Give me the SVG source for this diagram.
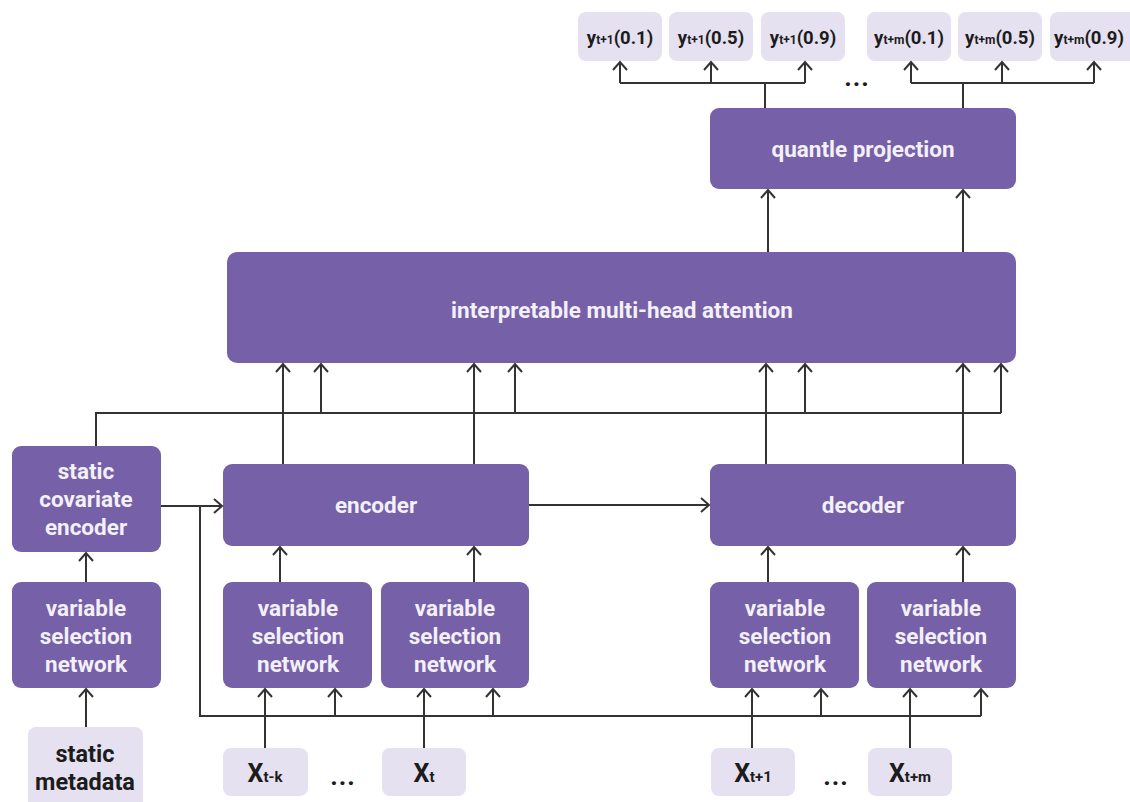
<svg xmlns="http://www.w3.org/2000/svg" width="1130" height="802" viewBox="0 0 1130 802">
<defs>
<style>
.p{fill:#7660a8}
.l{fill:#e6e1f0}
.pt{fill:#f3f0f8;font-family:Roboto,"Liberation Sans",sans-serif;font-weight:bold;font-size:22.5px;text-anchor:middle}
.lt{fill:#1c1c1c;font-family:Roboto,"Liberation Sans",sans-serif;font-weight:bold;text-anchor:middle}
.c{fill:none;stroke:#333;stroke-width:2}
</style>
<marker id="a" viewBox="-10 -8 12 16" refX="0" refY="0" markerWidth="12" markerHeight="16" markerUnits="userSpaceOnUse" orient="auto">
<path d="M-8,-7 L0,0 L-8,7" fill="none" stroke="#333" stroke-width="2"/>
</marker>
</defs>
<rect width="1130" height="802" fill="#fff"/>

<g id="out1"><rect class="l" x="578" y="12" width="84" height="49" rx="8"/><text class="lt" x="620" y="44" font-size="18.5">y<tspan font-size="12">t+1</tspan>(0.1)</text></g>
<g id="out2"><rect class="l" x="669" y="12" width="84" height="49" rx="8"/><text class="lt" x="711" y="44" font-size="18.5">y<tspan font-size="12">t+1</tspan>(0.5)</text></g>
<g id="out3"><rect class="l" x="761" y="12" width="84" height="49" rx="8"/><text class="lt" x="803" y="44" font-size="18.5">y<tspan font-size="12">t+1</tspan>(0.9)</text></g>
<g id="out4"><rect class="l" x="867" y="12" width="84" height="49" rx="8"/><text class="lt" x="909" y="44" font-size="18.5">y<tspan font-size="12">t+m</tspan>(0.1)</text></g>
<g id="out5"><rect class="l" x="958" y="12" width="84" height="49" rx="8"/><text class="lt" x="1000" y="44" font-size="18.5">y<tspan font-size="12">t+m</tspan>(0.5)</text></g>
<g id="out6"><rect class="l" x="1050" y="12" width="90" height="49" rx="8"/><text class="lt" x="1089" y="44" font-size="18.5">y<tspan font-size="12">t+m</tspan>(0.9)</text></g>
<text class="lt" x="857" y="86" font-size="26" letter-spacing="1">...</text>

<g id="quantile"><rect class="p" x="710" y="108" width="306" height="81" rx="9"/><text class="pt" x="863" y="157">quantle projection</text></g>
<g id="attention"><rect class="p" x="227" y="252" width="789" height="111" rx="10"/><text class="pt" x="622" y="318">interpretable multi-head attention</text></g>
<g id="sce"><rect class="p" x="12" y="446" width="149" height="106" rx="9"/><text class="pt" x="86" y="479">static</text><text class="pt" x="86" y="507">covariate</text><text class="pt" x="86" y="535">encoder</text></g>
<g id="encoder"><rect class="p" x="223" y="464" width="306" height="82" rx="9"/><text class="pt" x="376" y="513">encoder</text></g>
<g id="decoder"><rect class="p" x="710" y="464" width="306" height="82" rx="9"/><text class="pt" x="863" y="513">decoder</text></g>

<g id="vsn0"><rect class="p" x="12" y="582" width="149" height="106" rx="9"/><text class="pt" x="86" y="616">variable</text><text class="pt" x="86" y="644">selection</text><text class="pt" x="86" y="672">network</text></g>
<g id="vsn1"><rect class="p" x="223" y="582" width="149" height="106" rx="9"/><text class="pt" x="298" y="616">variable</text><text class="pt" x="298" y="644">selection</text><text class="pt" x="298" y="672">network</text></g>
<g id="vsn2"><rect class="p" x="381" y="582" width="148" height="106" rx="9"/><text class="pt" x="455" y="616">variable</text><text class="pt" x="455" y="644">selection</text><text class="pt" x="455" y="672">network</text></g>
<g id="vsn3"><rect class="p" x="710" y="582" width="149" height="106" rx="9"/><text class="pt" x="785" y="616">variable</text><text class="pt" x="785" y="644">selection</text><text class="pt" x="785" y="672">network</text></g>
<g id="vsn4"><rect class="p" x="867" y="582" width="149" height="106" rx="9"/><text class="pt" x="941" y="616">variable</text><text class="pt" x="941" y="644">selection</text><text class="pt" x="941" y="672">network</text></g>

<g id="meta"><rect class="l" x="28" y="727" width="115" height="85" rx="8"/><text class="lt" x="85" y="762" font-size="23.5">static</text><text class="lt" x="85" y="790" font-size="23.5">metadata</text></g>
<g id="x1"><rect class="l" x="223" y="748" width="85" height="48" rx="8"/><text class="lt" x="265" y="782" font-size="25">X<tspan font-size="15">t-k</tspan></text></g>
<text class="lt" x="343" y="785" font-size="26" letter-spacing="1">...</text>
<g id="x2"><rect class="l" x="382" y="748" width="84" height="48" rx="8"/><text class="lt" x="424" y="782" font-size="25">X<tspan font-size="15">t</tspan></text></g>
<g id="x3"><rect class="l" x="711" y="748" width="84" height="48" rx="8"/><text class="lt" x="753" y="782" font-size="25">X<tspan font-size="15">t+1</tspan></text></g>
<text class="lt" x="836" y="785" font-size="26" letter-spacing="1">...</text>
<g id="x4"><rect class="l" x="868" y="748" width="84" height="48" rx="8"/><text class="lt" x="910" y="782" font-size="25">X<tspan font-size="15">t+m</tspan></text></g>

<g id="connectors" class="c">
<path class="c" d="M620,83 H805 M765,108 V83 M911,83 H1094 M963,108 V83"/>
<path class="c" marker-end="url(#a)" d="M620,83 V62"/>
<path class="c" marker-end="url(#a)" d="M711,83 V62"/>
<path class="c" marker-end="url(#a)" d="M805,83 V62"/>
<path class="c" marker-end="url(#a)" d="M911,83 V62"/>
<path class="c" marker-end="url(#a)" d="M1002,83 V62"/>
<path class="c" marker-end="url(#a)" d="M1094,83 V62"/>
<path class="c" marker-end="url(#a)" d="M768,252 V190"/>
<path class="c" marker-end="url(#a)" d="M963,252 V190"/>
<path class="c" d="M96,446 V413 H1001"/>
<path class="c" marker-end="url(#a)" d="M283,464 V364"/>
<path class="c" marker-end="url(#a)" d="M474,464 V364"/>
<path class="c" marker-end="url(#a)" d="M766,464 V364"/>
<path class="c" marker-end="url(#a)" d="M963,464 V364"/>
<path class="c" marker-end="url(#a)" d="M321,413 V364"/>
<path class="c" marker-end="url(#a)" d="M515,413 V364"/>
<path class="c" marker-end="url(#a)" d="M805,413 V364"/>
<path class="c" marker-end="url(#a)" d="M1001,413 V364"/>
<path class="c" marker-end="url(#a)" d="M161,506 H222"/>
<path class="c" marker-end="url(#a)" d="M529,505 H709"/>
<path class="c" d="M200,506 V716 H981"/>
<path class="c" marker-end="url(#a)" d="M335,716 V689"/>
<path class="c" marker-end="url(#a)" d="M493,716 V689"/>
<path class="c" marker-end="url(#a)" d="M821,716 V689"/>
<path class="c" marker-end="url(#a)" d="M981,716 V689"/>
<path class="c" marker-end="url(#a)" d="M265,748 V689"/>
<path class="c" marker-end="url(#a)" d="M424,748 V689"/>
<path class="c" marker-end="url(#a)" d="M752,748 V689"/>
<path class="c" marker-end="url(#a)" d="M910,748 V689"/>
<path class="c" marker-end="url(#a)" d="M280,582 V547"/>
<path class="c" marker-end="url(#a)" d="M474,582 V547"/>
<path class="c" marker-end="url(#a)" d="M768,582 V547"/>
<path class="c" marker-end="url(#a)" d="M963,582 V547"/>
<path class="c" marker-end="url(#a)" d="M86,727 V689"/>
<path class="c" marker-end="url(#a)" d="M86,582 V553"/>
</g>
</svg>
